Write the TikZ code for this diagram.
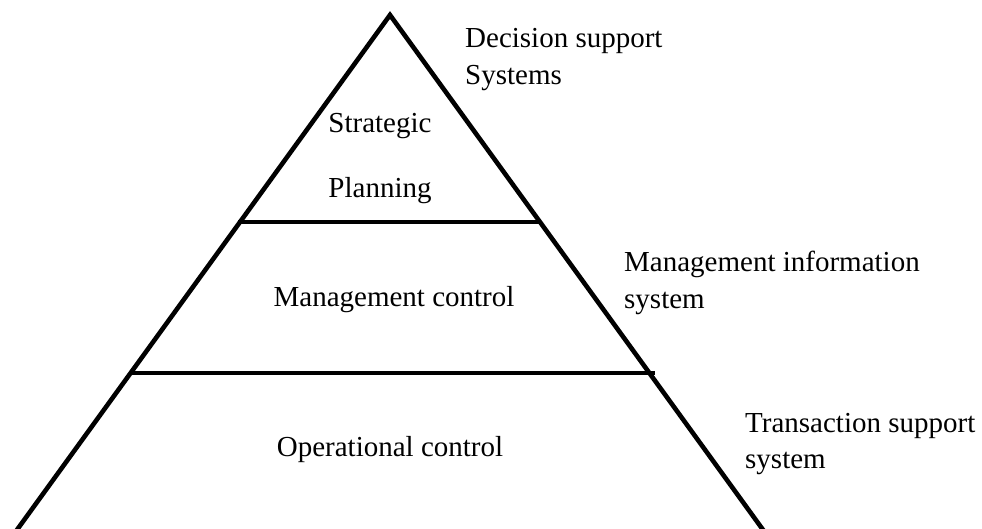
\documentclass[tikz,border=0pt]{standalone}
\usepackage{fontspec}
\setmainfont{Liberation Serif}
\tikzset{
  lbl/.style={font=\fontsize{29}{34}\selectfont, inner sep=0pt, anchor=base},
  sidelbl/.style={font=\fontsize{29}{34}\selectfont, inner sep=0pt, anchor=base west},
  edge/.style={line width=4.6pt, line join=miter, black}
}
\begin{document}
\begin{tikzpicture}[x=1pt,y=-1pt]
\useasboundingbox (0,0) rectangle (982,529);
\clip (0,0) rectangle (982,529);
% pyramid
\coordinate (apex) at (390,15);
\coordinate (bl) at (6,545);
\coordinate (br) at (774,545);
\draw[edge] (bl) -- (apex) -- (br);
\coordinate (l1a) at (238,222);
\coordinate (l1b) at (541,222);
\coordinate (l2a) at (130,373);
\coordinate (l2b) at (655,373);
\draw[edge] (l1a) -- (l1b);
\draw[edge] (l2a) -- (l2b);
% inside labels
\node[lbl] (strat) at (380,133) {Strategic};
\node[lbl] (plan) at (380,198) {Planning};
\node[lbl] (mc) at (394,306) {Management control};
\node[lbl] (oc) at (390,456) {Operational control};
% side labels
\node[sidelbl] (dss1) at (465,48) {Decision support};
\node[sidelbl] (dss2) at (465,85) {Systems};
\node[sidelbl] (mis1) at (624,272) {Management information};
\node[sidelbl] (mis2) at (624,308) {system};
\node[sidelbl] (tss1) at (745,432) {Transaction support};
\node[sidelbl] (tss2) at (745,468) {system};
\end{tikzpicture}
\end{document}
